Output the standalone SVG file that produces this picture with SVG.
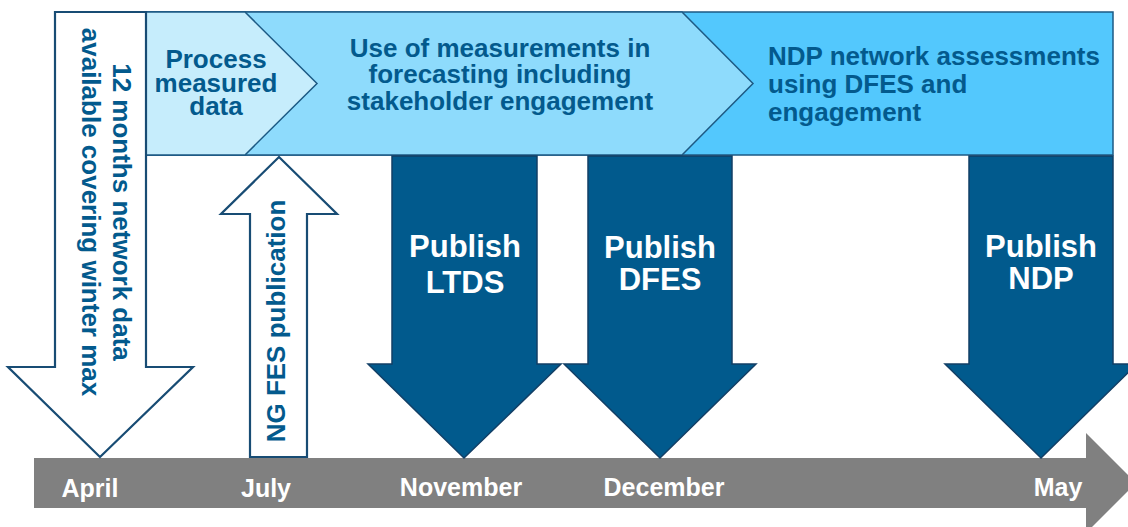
<svg xmlns="http://www.w3.org/2000/svg" width="1128" height="527" viewBox="0 0 1128 527">
<style>
text{font-family:"Liberation Sans",Arial,sans-serif;font-weight:bold}
.blue{fill:#035A8D;font-size:26px}
.wt{fill:#FFFFFF}
.pub{font-size:31px;text-anchor:middle}
.mon{font-size:25px;text-anchor:middle}
.box{stroke:#1D5A84;stroke-width:1.5}
.hollow{fill:#FFFFFF;stroke:#184C74;stroke-width:2.2}
.solid{fill:#015A8D;stroke:#123F66;stroke-width:1.5}
</style>
<rect width="1128" height="527" fill="#FFFFFF"/>
<g id="timeline">
<polygon points="34,458 1086,458 1086,433 1136,483 1086,533 1086,508 34,508" fill="#808080"/>
<text class="wt mon" x="90" y="497">April</text>
<text class="wt mon" x="266" y="497">July</text>
<text class="wt mon" x="461" y="496">November</text>
<text class="wt mon" x="664" y="496">December</text>
<text class="wt mon" x="1058" y="496">May</text>
</g>
<g id="ndp-assess">
<rect class="box" x="146" y="12" width="967" height="143" fill="#53C8FD"/>
<text class="blue" x="768" y="65">NDP network assessments</text>
<text class="blue" x="768" y="93">using DFES and</text>
<text class="blue" x="768" y="121">engagement</text>
</g>
<g id="use-measurements">
<polygon class="box" points="146,12 682,12 753,83.5 682,155 146,155" fill="#8EDBFC"/>
<text class="blue" x="500" y="57" text-anchor="middle">Use of measurements in</text>
<text class="blue" x="500" y="83" text-anchor="middle">forecasting including</text>
<text class="blue" x="500" y="110" text-anchor="middle">stakeholder engagement</text>
</g>
<g id="process">
<polygon class="box" points="146,12 245,12 317,83.5 245,155 146,155" fill="#C6EDFC"/>
<text class="blue" x="216" y="68" text-anchor="middle">Process</text>
<text class="blue" x="216" y="92" text-anchor="middle">measured</text>
<text class="blue" x="216" y="115" text-anchor="middle">data</text>
</g>
<g id="data-available">
<polygon class="hollow" points="55,12 146,12 146,367 193,367 100,457 8,367 55,367"/>
<text class="blue" transform="rotate(90)" x="212" y="-113" text-anchor="middle">12 months network data</text>
<text class="blue" transform="rotate(90)" x="212" y="-82" text-anchor="middle">available covering winter max</text>
</g>
<g id="ng-fes">
<polygon class="hollow" points="250,457 307,457 307,214 337,214 279,157 221,214 250,214"/>
<text class="blue" transform="rotate(-90)" x="-321" y="285" text-anchor="middle">NG FES publication</text>
</g>
<g id="publish-ltds">
<polygon class="solid" points="392,156 537,156 537,364 561,364 464,458 368,364 392,364"/>
<text class="wt pub" x="465" y="257">Publish</text>
<text class="wt pub" x="465" y="293">LTDS</text>
</g>
<g id="publish-dfes">
<polygon class="solid" points="588,156 732,156 732,364 756,364 660,458 564,364 588,364"/>
<text class="wt pub" x="660" y="258">Publish</text>
<text class="wt pub" x="660" y="290">DFES</text>
</g>
<g id="publish-ndp">
<polygon class="solid" points="969,156 1113,156 1113,364 1137,364 1041,458 945,364 969,364"/>
<text class="wt pub" x="1041" y="257">Publish</text>
<text class="wt pub" x="1041" y="289">NDP</text>
</g>
<g id="connectors"></g>
</svg>
